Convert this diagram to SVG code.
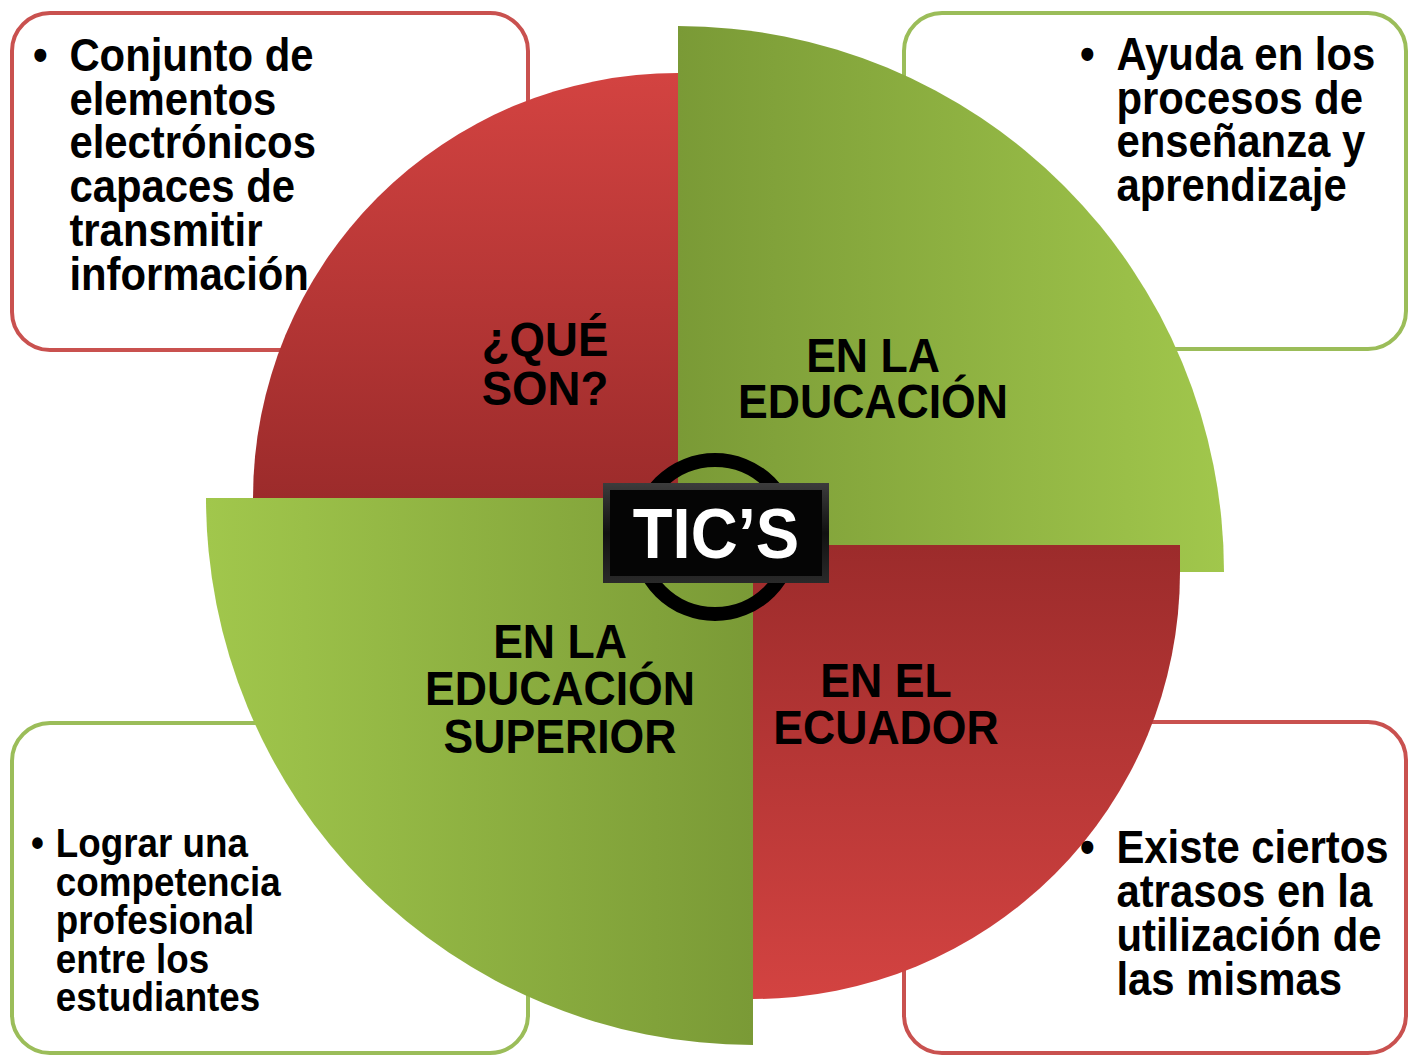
<svg xmlns="http://www.w3.org/2000/svg" width="1409" height="1057" viewBox="0 0 1409 1057">
<defs>
<linearGradient id="gRedTL" gradientUnits="userSpaceOnUse" x1="0" y1="73" x2="0" y2="498"><stop offset="0" stop-color="#d34341"/><stop offset="1" stop-color="#9c2b2b"/></linearGradient>
<linearGradient id="gRedBR" gradientUnits="userSpaceOnUse" x1="0" y1="545" x2="0" y2="998"><stop offset="0" stop-color="#9c2b2b"/><stop offset="1" stop-color="#d34341"/></linearGradient>
<linearGradient id="gGreenTR" gradientUnits="userSpaceOnUse" x1="678" y1="0" x2="1225" y2="0"><stop offset="0" stop-color="#7a9a36"/><stop offset="1" stop-color="#a1c74c"/></linearGradient>
<linearGradient id="gGreenBL" gradientUnits="userSpaceOnUse" x1="207" y1="0" x2="753" y2="0"><stop offset="0" stop-color="#a1c74c"/><stop offset="1" stop-color="#7a9a36"/></linearGradient>
<linearGradient id="gBevel" x1="0" y1="0" x2="0" y2="1"><stop offset="0" stop-color="#3c3c3c"/><stop offset="0.5" stop-color="#111"/><stop offset="1" stop-color="#2a2a2a"/></linearGradient>
</defs>
<style>
.box{fill:#fff;stroke-width:4}
.rb{stroke:#c9514f}
.gb{stroke:#9bbd59}
.t{font-family:"Liberation Sans",Arial,sans-serif;font-weight:bold;fill:#000}
.lbl{font-size:49px;text-anchor:middle}
.bx{font-size:46px}
.bs{font-size:40px}
.tic{font-family:"Liberation Sans",Arial,sans-serif;font-weight:bold;fill:#fff;font-size:70px;text-anchor:middle}
</style>

<g id="box-tl"><rect class="box rb" x="12" y="13" width="516" height="337" rx="38"/></g>
<g id="box-tr"><rect class="box gb" x="904" y="13" width="502" height="336" rx="38"/></g>
<g id="box-bl"><rect class="box gb" x="12" y="723" width="516" height="330" rx="38"/></g>
<g id="box-br"><rect class="box rb" x="904" y="722" width="502" height="331" rx="38"/></g>

<g id="sector-que-son"><path d="M678,498 L253,498 A425,425 0 0 1 678,73 Z" fill="url(#gRedTL)"/></g>
<g id="sector-educacion"><path d="M678,572 L678,26 A546,546 0 0 1 1224,572 Z" fill="url(#gGreenTR)"/></g>
<g id="sector-superior"><path d="M753,498 L753,1045 A547,547 0 0 1 206,498 Z" fill="url(#gGreenBL)"/></g>
<g id="sector-ecuador"><path d="M753,545 L1180,545 L1180,572 A427,427 0 0 1 753,999 Z" fill="url(#gRedBR)"/></g>

<g id="connectors"></g>

<g id="center-tics">
<circle cx="715" cy="537" r="77" fill="none" stroke="#000" stroke-width="14"/>
<rect x="603" y="483" width="226" height="100" fill="url(#gBevel)"/>
<rect x="610" y="490" width="212" height="86" fill="#050505"/>
<g transform="translate(716,0) scale(0.93,1)"><text class="tic" x="0" y="558">TIC’S</text></g>
</g>

<g id="label-que-son" transform="translate(545,0) scale(0.93,1)">
<text class="t lbl" x="0" y="356">¿QUÉ</text>
<text class="t lbl" x="0" y="405">SON?</text>
</g>
<g id="label-educacion" transform="translate(873,0) scale(0.91,1)">
<text class="t lbl" x="0" y="372">EN LA</text>
<text class="t lbl" x="0" y="418">EDUCACIÓN</text>
</g>
<g id="label-superior" transform="translate(560,0) scale(0.91,1)">
<text class="t lbl" x="0" y="658">EN LA</text>
<text class="t lbl" x="0" y="705">EDUCACIÓN</text>
<text class="t lbl" x="0" y="753">SUPERIOR</text>
</g>
<g id="label-ecuador" transform="translate(886,0) scale(0.91,1)">
<text class="t lbl" x="0" y="697">EN EL</text>
<text class="t lbl" x="0" y="744">ECUADOR</text>
</g>

<g id="text-tl" transform="translate(33,0) scale(0.91,1)">
<text class="t bx" x="0" y="71">•</text>
<text class="t bx" x="40" y="71">Conjunto de</text>
<text class="t bx" x="40" y="115">elementos</text>
<text class="t bx" x="40" y="158">electrónicos</text>
<text class="t bx" x="40" y="202">capaces de</text>
<text class="t bx" x="40" y="246">transmitir</text>
<text class="t bx" x="40" y="290">información</text>
</g>
<g id="text-tr" transform="translate(1080,0) scale(0.91,1)">
<text class="t bx" x="0" y="70">•</text>
<text class="t bx" x="40" y="70">Ayuda en los</text>
<text class="t bx" x="40" y="114">procesos de</text>
<text class="t bx" x="40" y="157">enseñanza y</text>
<text class="t bx" x="40" y="201">aprendizaje</text>
</g>
<g id="text-bl" transform="translate(31,0) scale(0.92,1)">
<text class="t bs" x="0" y="857">•</text>
<text class="t bs" x="27" y="857">Lograr una</text>
<text class="t bs" x="27" y="896">competencia</text>
<text class="t bs" x="27" y="934">profesional</text>
<text class="t bs" x="27" y="973">entre los</text>
<text class="t bs" x="27" y="1011">estudiantes</text>
</g>
<g id="text-br" transform="translate(1080,0) scale(0.91,1)">
<text class="t bx" x="0" y="863">•</text>
<text class="t bx" x="40" y="863">Existe ciertos</text>
<text class="t bx" x="40" y="907">atrasos en la</text>
<text class="t bx" x="40" y="951">utilización de</text>
<text class="t bx" x="40" y="995">las mismas</text>
</g>
</svg>
